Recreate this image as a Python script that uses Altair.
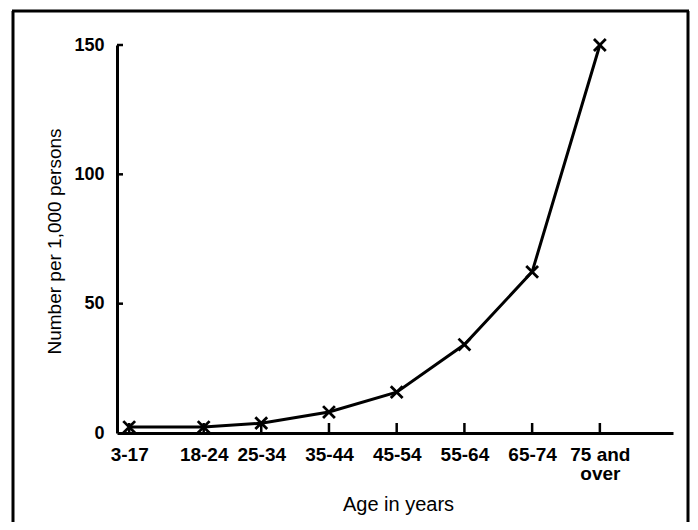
import altair as alt
import pandas as pd

ages = ["3-17", "18-24", "25-34", "35-44", "45-54", "55-64", "65-74", "75 and over"]
age_mid = [10, 21, 29.5, 39.5, 49.5, 59.5, 69.5, 79.5]
rate = [2.3, 2.3, 3.8, 8.1, 15.8, 34.2, 62.3, 150]
y_ticks = [0, 50, 100, 150]

df = pd.DataFrame({"age": ages, "mid": age_mid, "rate": rate})
ydf = pd.DataFrame({"v": y_ticks[1:]})

W, H = 556, 388
FONT = "Liberation Sans"

# label expression mapping midpoints to category labels
expr = ""
for a, m in zip(ages, age_mid):
    if " and " in a:
        lab = "['75 and', 'over']"
    else:
        lab = "'" + a + "'"
    expr += f"datum.value == {m} ? {lab} : "
expr += "''"

xscale = alt.Scale(domain=[8.2, 90.3], nice=False, zero=False)
yscale = alt.Scale(domain=[0, 150], nice=False)

xaxis = alt.Axis(values=age_mid, labelExpr=expr, ticks=False, grid=False,
                 domainColor="black", domainWidth=3, labelFont=FONT, labelFontSize=19,
                 labelFontWeight="bold", labelColor="black", labelPadding=12,
                 labelLineHeight=19, labelFlush=False, labelOverlap=False,
                 title="Age in years", titleFont=FONT, titleFontSize=20,
                 titleFontWeight="normal", titleColor="black",
                 titleX=281, titleY=71, titleAlign="center", titleBaseline="middle")
yaxis = alt.Axis(values=y_ticks, ticks=False, grid=False, domainColor="black",
                 domainWidth=3, labelFont=FONT, labelFontSize=18, labelFontWeight="bold",
                 labelColor="black", labelPadding=13,
                 title="Number per 1,000 persons", titleFont=FONT, titleFontSize=19,
                 titleFontWeight="normal", titleColor="black", titleAngle=-90,
                 titleX=-63, titleY=196, titleAlign="center", titleBaseline="middle")

base = alt.Chart(df)

line = base.mark_line(color="black", strokeWidth=3).encode(
    x=alt.X("mid:Q", scale=xscale, axis=xaxis),
    y=alt.Y("rate:Q", scale=yscale, axis=yaxis),
)

pts = base.mark_point(shape="M-1,-1L1,1M-1,1L1,-1", filled=False, color="black",
                      strokeWidth=2.8, size=140, opacity=1).encode(
    x=alt.X("mid:Q", scale=xscale),
    y=alt.Y("rate:Q", scale=yscale),
)

xticks = base.mark_rule(color="black", strokeWidth=2.5).encode(
    x=alt.X("mid:Q", scale=xscale),
    y=alt.value(H - 10), y2=alt.value(H),
)

yticks = alt.Chart(ydf).mark_rule(color="black", strokeWidth=2.5).encode(
    y=alt.Y("v:Q", scale=yscale),
    x=alt.value(0), x2=alt.value(6),
)

frame_l = alt.Chart(df.head(1)).mark_rule(color="black", strokeWidth=3).encode(
    x=alt.value(-104), y=alt.value(-34), y2=alt.value(600))
frame_r = alt.Chart(df.head(1)).mark_rule(color="black", strokeWidth=3).encode(
    x=alt.value(571), y=alt.value(-34), y2=alt.value(600))
frame_t = alt.Chart(df.head(1)).mark_rule(color="black", strokeWidth=3).encode(
    x=alt.value(-105), x2=alt.value(572), y=alt.value(-34))

chart = alt.layer(frame_l, frame_r, frame_t, xticks, yticks, line, pts).properties(
    width=W, height=H,
    background="white",
    autosize=alt.AutoSizeParams(type="none"),
    padding={"left": 109, "top": 37, "right": 17, "bottom": 89},
).configure_view(strokeWidth=0)

chart.save("out.html", embed_options={"renderer": "svg", "actions": False})
